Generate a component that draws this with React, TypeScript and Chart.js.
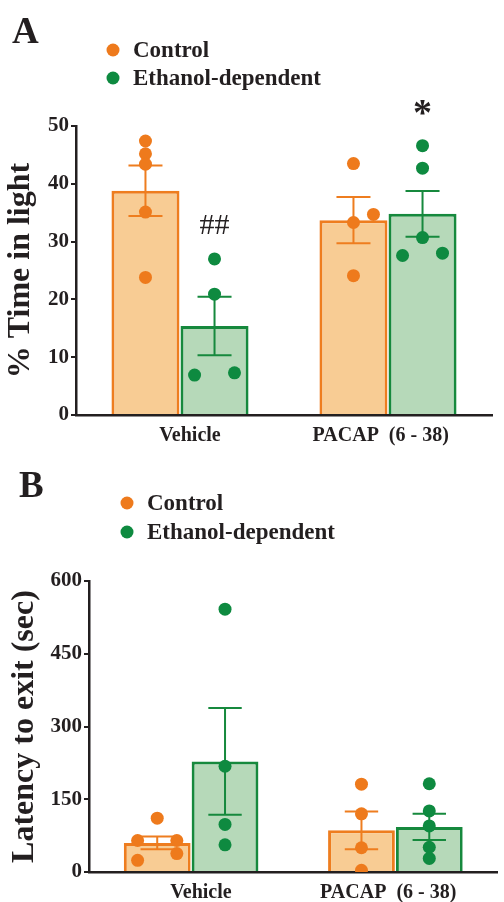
import React, { useEffect, useRef } from "react";
import { Chart, registerables } from "chart.js";

Chart.register(...registerables);

const FONT = "'Liberation Serif', 'Times New Roman', Times, serif";
const INK = "#231f20";

const categories = ["Vehicle", "PACAP  (6 - 38)"];
const seriesNames = ["Control", "Ethanol-dependent"];
const seriesBorder = ["#ee7d1f", "#16893d"];
const seriesFill = ["#f8cc94", "#b6d9b9"];
const seriesDot = ["#ee7a1c", "#0e8a40"];

// fraction of a category occupied by the two bars of a group
const GROUP_PCT = 0.664;
const BAR_PCT = 0.985;
// small horizontal nudges of the category labels (in category units), as in the figure
const LABEL_NUDGE = [0.048, -0.035];

// ---------- Panel A: % Time in light ----------
const aYMax = 50;
const aYStep = 10;
const aControlMean = [38.8, 33.7];
const aControlSem = [4.35, 4.0];
const aEthanolMean = [15.4, 34.8];
const aEthanolSem = [5.05, 3.95];
const aControlPoints = [
  [47.4, 45.2, 43.4, 35.1, 23.8],
  [43.5, 34.7, 33.3, 24.1],
];
const aControlJitter = [
  [0, 0, 0, 0, 0],
  [0, 0.096, 0, 0],
];
const aEthanolPoints = [
  [27.0, 20.9, 6.9, 7.3],
  [46.6, 42.7, 30.7, 27.6, 28.0],
];
const aEthanolJitter = [
  [0, 0, -0.096, 0.096],
  [0, 0, 0, -0.096, 0.096],
];
const aAnnotText = ["##", "*"];
const aAnnotSeries = [1, 1];
const aAnnotCat = [0, 1];
const aAnnotY = [32.6, 53.1];

// ---------- Panel B: Latency to exit ----------
const bYMax = 600;
const bYStep = 150;
const bControlMean = [60, 86];
const bControlSem = [13, 39];
const bEthanolMean = [228, 93];
const bEthanolSem = [110, 27];
const bControlPoints = [
  [111, 65, 65, 38, 24],
  [181, 120, 50, 3.5],
];
const bControlJitter = [
  [0, -0.096, 0.096, 0.096, -0.096],
  [0, 0, 0, 0],
];
const bEthanolPoints = [
  [542, 218, 98, 56],
  [182, 126, 95, 51, 28],
];
const bEthanolJitter = [
  [0, 0, 0, 0],
  [0, 0, 0, 0, 0],
];
const bAnnotText: string[] = [];
const bAnnotSeries: number[] = [];
const bAnnotCat: number[] = [];
const bAnnotY: number[] = [];

type PanelProps = {
  width: number;
  height: number;
  letter: string;
  letterX: number;
  letterY: number;
  legendDotX: number;
  legendTextX: number;
  legendRowY: number[];
  yTitle: string;
  yTitlePad: number;
  yMax: number;
  yStep: number;
  controlMean: number[];
  controlSem: number[];
  ethanolMean: number[];
  ethanolSem: number[];
  controlPoints: number[][];
  controlJitter: number[][];
  ethanolPoints: number[][];
  ethanolJitter: number[][];
  annotText: string[];
  annotSeries: number[];
  annotCat: number[];
  annotY: number[];
  pad: { top: number; right: number; bottom: number; left: number };
  yWidth: number;
  xHeight: number;
};

const seriesOffset = (s: number) => (s === 0 ? -GROUP_PCT / 4 : GROUP_PCT / 4);

function buildBars(means: number[], series: number) {
  return means.map((m, j) => ({ x: j + seriesOffset(series), y: m }));
}

function buildPoints(vals: number[][], jitter: number[][], series: number) {
  const out: { x: number; y: number }[] = [];
  vals.forEach((row, j) => {
    row.forEach((v, k) => {
      out.push({ x: j + seriesOffset(series) + jitter[j][k], y: v });
    });
  });
  return out;
}

function Panel(p: PanelProps) {
  const ref = useRef<HTMLCanvasElement | null>(null);
  useEffect(() => {
    if (!ref.current) return;
    const sems = [p.controlSem, p.ethanolSem];
    const means = [p.controlMean, p.ethanolMean];

    const errorBars = {
      id: "errorBars",
      afterDatasetDraw(chart: any, args: any) {
        const meta = args.meta;
        if (meta.type !== "bar") return;
        const s = args.index;
        const ctx = chart.ctx;
        const y = chart.scales.y;
        ctx.save();
        ctx.strokeStyle = seriesBorder[s];
        ctx.lineWidth = 2;
        meta.data.forEach((bar: any, j: number) => {
          const m = means[s][j];
          const e = sems[s][j];
          const top = y.getPixelForValue(m + e);
          const bot = y.getPixelForValue(m - e);
          const half = bar.width / 4;
          ctx.beginPath();
          ctx.moveTo(bar.x, top);
          ctx.lineTo(bar.x, bot);
          ctx.moveTo(bar.x - half, top);
          ctx.lineTo(bar.x + half, top);
          ctx.moveTo(bar.x - half, bot);
          ctx.lineTo(bar.x + half, bot);
          ctx.stroke();
        });
        ctx.restore();
      },
    };

    const decorations = {
      id: "decorations",
      afterDraw(chart: any) {
        const ctx = chart.ctx;
        ctx.save();
        ctx.fillStyle = INK;
        ctx.textAlign = "left";
        ctx.textBaseline = "alphabetic";
        ctx.font = `bold 37px ${FONT}`;
        ctx.fillText(p.letter, p.letterX, p.letterY);

        seriesNames.forEach((name, i) => {
          const cy = p.legendRowY[i];
          ctx.fillStyle = seriesDot[i];
          ctx.beginPath();
          ctx.arc(p.legendDotX, cy, 6.5, 0, Math.PI * 2);
          ctx.fill();
          ctx.fillStyle = INK;
          ctx.font = `bold 23px ${FONT}`;
          ctx.textBaseline = "middle";
          ctx.fillText(name, p.legendTextX, cy + 1);
        });

        const y = chart.scales.y;
        p.annotText.forEach((t, i) => {
          const bar = chart.getDatasetMeta(p.annotSeries[i]).data[p.annotCat[i]];
          ctx.fillStyle = INK;
          ctx.textAlign = "center";
          ctx.textBaseline = "middle";
          ctx.font = t === "*" ? `bold 38px ${FONT}` : `30px ${FONT}`;
          ctx.fillText(t, bar.x, y.getPixelForValue(p.annotY[i]) + (t === "*" ? 7 : 0));
        });
        ctx.restore();
      },
    };

    const chart = new Chart(ref.current, {
      type: "bar",
      data: {
        datasets: [
          {
            type: "bar",
            label: seriesNames[0],
            data: buildBars(p.controlMean, 0),
            backgroundColor: seriesFill[0],
            borderColor: seriesBorder[0],
            borderWidth: 3,
            grouped: false,
            categoryPercentage: 1,
            barPercentage: BAR_PCT,
            order: 2,
          },
          {
            type: "bar",
            label: seriesNames[1],
            data: buildBars(p.ethanolMean, 1),
            backgroundColor: seriesFill[1],
            borderColor: seriesBorder[1],
            borderWidth: 3,
            grouped: false,
            categoryPercentage: 1,
            barPercentage: BAR_PCT,
            order: 2,
          },
          {
            type: "line",
            label: seriesNames[0] + " points",
            data: buildPoints(p.controlPoints, p.controlJitter, 0),
            showLine: false,
            backgroundColor: seriesDot[0],
            borderColor: seriesDot[0],
            borderWidth: 0,
            pointRadius: 6.5,
            pointBorderWidth: 0,
            order: 1,
          },
          {
            type: "line",
            label: seriesNames[1] + " points",
            data: buildPoints(p.ethanolPoints, p.ethanolJitter, 1),
            showLine: false,
            backgroundColor: seriesDot[1],
            borderColor: seriesDot[1],
            borderWidth: 0,
            pointRadius: 6.5,
            pointBorderWidth: 0,
            order: 1,
          },
        ] as any,
      },
      options: {
        animation: false,
        responsive: false,
        events: [],
        layout: { padding: p.pad },
        plugins: {
          legend: { display: false },
          tooltip: { enabled: false },
          title: { display: false },
        },
        scales: {
          x: {
            type: "linear",
            min: -0.5,
            max: 1.5,
            offset: false,
            afterBuildTicks: (s: any) => {
              s.ticks = categories.map((_, i) => ({ value: i + LABEL_NUDGE[i] }));
            },
            grid: { display: false, drawTicks: false },
            border: { display: true, color: INK, width: 2.5 },
            ticks: {
              color: INK,
              font: { family: FONT, weight: "bold", size: 20 },
              padding: 9,
              maxRotation: 0,
              autoSkip: false,
              callback: (v: any) => categories[Math.round(v)] ?? "",
            },
            afterFit: (s: any) => {
              s.height = p.xHeight;
            },
          },
          y: {
            type: "linear",
            min: 0,
            max: p.yMax,
            ticks: {
              stepSize: p.yStep,
              color: INK,
              font: { family: FONT, weight: "bold", size: 21 },
              padding: 2,
            },
            grid: {
              drawOnChartArea: false,
              drawTicks: true,
              tickLength: 5,
              color: INK,
              lineWidth: 2,
            },
            border: { display: true, color: INK, width: 2.5 },
            title: {
              display: true,
              text: p.yTitle,
              color: INK,
              font: { family: FONT, weight: "bold", size: 32 },
              padding: { top: p.yTitlePad, bottom: 0 },
            },
            afterFit: (s: any) => {
              s.width = p.yWidth;
            },
          },
        } as any,
      },
      plugins: [errorBars, decorations],
    });
    return () => chart.destroy();
  }, []);
  return (
    <canvas
      ref={ref}
      width={p.width}
      height={p.height}
      style={{ display: "block", width: p.width, height: p.height }}
    />
  );
}

export default function App() {
  return (
    <div
      style={{
        position: "absolute",
        left: 0,
        top: 0,
        width: 504,
        height: 902,
        background: "#ffffff",
        overflow: "hidden",
      }}
    >
      <Panel
        width={504}
        height={450}
        letter="A"
        letterX={12}
        letterY={43}
        legendDotX={113}
        legendTextX={133}
        legendRowY={[50, 78]}
        yTitle="% Time in light"
        yTitlePad={2}
        yMax={aYMax}
        yStep={aYStep}
        controlMean={aControlMean}
        controlSem={aControlSem}
        ethanolMean={aEthanolMean}
        ethanolSem={aEthanolSem}
        controlPoints={aControlPoints}
        controlJitter={aControlJitter}
        ethanolPoints={aEthanolPoints}
        ethanolJitter={aEthanolJitter}
        annotText={aAnnotText}
        annotSeries={aAnnotSeries}
        annotCat={aAnnotCat}
        annotY={aAnnotY}
        pad={{ top: 126, right: 12, bottom: 0, left: 0 }}
        yWidth={76}
        xHeight={35}
      />
      <Panel
        width={504}
        height={452}
        letter="B"
        letterX={19}
        letterY={47}
        legendDotX={127}
        legendTextX={147}
        legendRowY={[53, 82]}
        yTitle="Latency to exit (sec)"
        yTitlePad={6}
        yMax={bYMax}
        yStep={bYStep}
        controlMean={bControlMean}
        controlSem={bControlSem}
        ethanolMean={bEthanolMean}
        ethanolSem={bEthanolSem}
        controlPoints={bControlPoints}
        controlJitter={bControlJitter}
        ethanolPoints={bEthanolPoints}
        ethanolJitter={bEthanolJitter}
        annotText={bAnnotText}
        annotSeries={bAnnotSeries}
        annotCat={bAnnotCat}
        annotY={bAnnotY}
        pad={{ top: 131, right: 0, bottom: 0, left: 0 }}
        yWidth={89}
        xHeight={30}
      />
    </div>
  );
}
